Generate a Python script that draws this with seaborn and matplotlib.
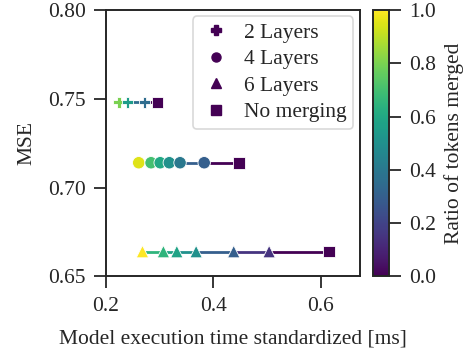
import numpy as np
import pandas as pd
import matplotlib
matplotlib.use("Agg")
import matplotlib.pyplot as plt
import seaborn as sns
from matplotlib.lines import Line2D

# ---- data ----
two_time = [0.224, 0.240, 0.272, 0.296]
two_mse = [0.748, 0.748, 0.748, 0.748]
two_ratio = [0.8, 0.55, 0.35, 0.0]

four_time = [0.261, 0.284, 0.301, 0.318, 0.338, 0.383, 0.448]
four_mse = [0.714, 0.714, 0.714, 0.714, 0.714, 0.714, 0.714]
four_ratio = [0.95, 0.7, 0.6, 0.5, 0.4, 0.3, 0.0]

six_time = [0.268, 0.307, 0.332, 0.368, 0.438, 0.504, 0.616]
six_mse = [0.664, 0.664, 0.664, 0.664, 0.664, 0.664, 0.664]
six_ratio = [1.0, 0.65, 0.58, 0.5, 0.3, 0.15, 0.0]

series_labels = ["2 Layers", "4 Layers", "6 Layers"]
nomerge_label = "No merging"
x_label = "Model execution time standardized [ms]"
y_label = "MSE"
cbar_label = "Ratio of tokens merged"

FS = 15.5

sns.set_theme(style="ticks")
plt.rcParams["font.family"] = ["Liberation Serif", "DejaVu Serif"]
plt.rcParams["mathtext.fontset"] = "stix"

fig = plt.figure(figsize=(4.71, 3.54), dpi=100)
ax = fig.add_axes([0.225, 0.219, 0.539, 0.753])
cax = fig.add_axes([0.792, 0.219, 0.034, 0.753])

cmap = plt.get_cmap("viridis")
norm = matplotlib.colors.Normalize(0, 1)

rows = []
for lab, t, m, r in zip(series_labels, [two_time, four_time, six_time],
                        [two_mse, four_mse, six_mse], [two_ratio, four_ratio, six_ratio]):
    for ti, mi, ri in zip(t, m, r):
        kind = nomerge_label if ri == 0 else lab
        rows.append(dict(time=ti, mse=mi, ratio=ri, kind=kind, group=lab))
df = pd.DataFrame(rows)

# colored connecting segments (color of the right endpoint)
for lab in series_labels:
    d = df[df["group"] == lab].sort_values("time")
    t = d["time"].values; m = d["mse"].values; r = d["ratio"].values
    for i in range(len(t) - 1):
        ax.plot(t[i:i + 2], m[i:i + 2], color=cmap(norm(r[i + 1])), lw=2.0,
                zorder=1, solid_capstyle="butt")

markers = {"2 Layers": "P", "4 Layers": "o", "6 Layers": "^", nomerge_label: "s"}
sizes = {"2 Layers": 65, "4 Layers": 80, "6 Layers": 80, nomerge_label: 70}
for k in markers:
    d = df[df["kind"] == k]
    sns.scatterplot(data=d, x="time", y="mse", hue="ratio", palette="viridis",
                    hue_norm=(0, 1), marker=markers[k], s=sizes[k],
                    edgecolor="white", linewidth=0.6, ax=ax, legend=False, zorder=3)

ax.set_xlim(0.2, 0.673)
ax.set_ylim(0.65, 0.80)
ax.set_xticks([0.2, 0.4, 0.6])
ax.set_yticks([0.65, 0.70, 0.75, 0.80])
ax.set_xticklabels(["0.2", "0.4", "0.6"])
ax.set_yticklabels(["0.65", "0.70", "0.75", "0.80"])
ax.set_xlabel(x_label, fontsize=FS, labelpad=10)
ax.set_ylabel(y_label, fontsize=FS, labelpad=8)
ax.tick_params(labelsize=FS, width=1.3, length=8.5, color="#262626", pad=6)
for sp in ax.spines.values():
    sp.set_linewidth(1.4)
    sp.set_color("#262626")

# legend
dark = cmap(0.0)
handles = [Line2D([], [], marker=markers[k], color=dark, linestyle="none",
                  markersize=6.5, markeredgecolor=dark)
           for k in series_labels + [nomerge_label]]
leg = ax.legend(handles, series_labels + [nomerge_label], loc="upper right",
                fontsize=FS, frameon=True, handletextpad=0.5, borderpad=0.3,
                labelspacing=0.3, handlelength=1.6, borderaxespad=0.3)
leg.get_frame().set_edgecolor("#d0d0d0")
leg.get_frame().set_linewidth(1.2)

sm = matplotlib.cm.ScalarMappable(norm=norm, cmap=cmap)
cb = fig.colorbar(sm, cax=cax)
cb.set_ticks([0.0, 0.2, 0.4, 0.6, 0.8, 1.0])
cb.set_label(cbar_label, fontsize=FS, labelpad=6)
cb.ax.tick_params(labelsize=FS, width=1.3, length=8.5, color="#262626", pad=6)
cb.outline.set_linewidth(1.4)
cb.outline.set_edgecolor("#262626")

fig.savefig("out.png", dpi=100)
